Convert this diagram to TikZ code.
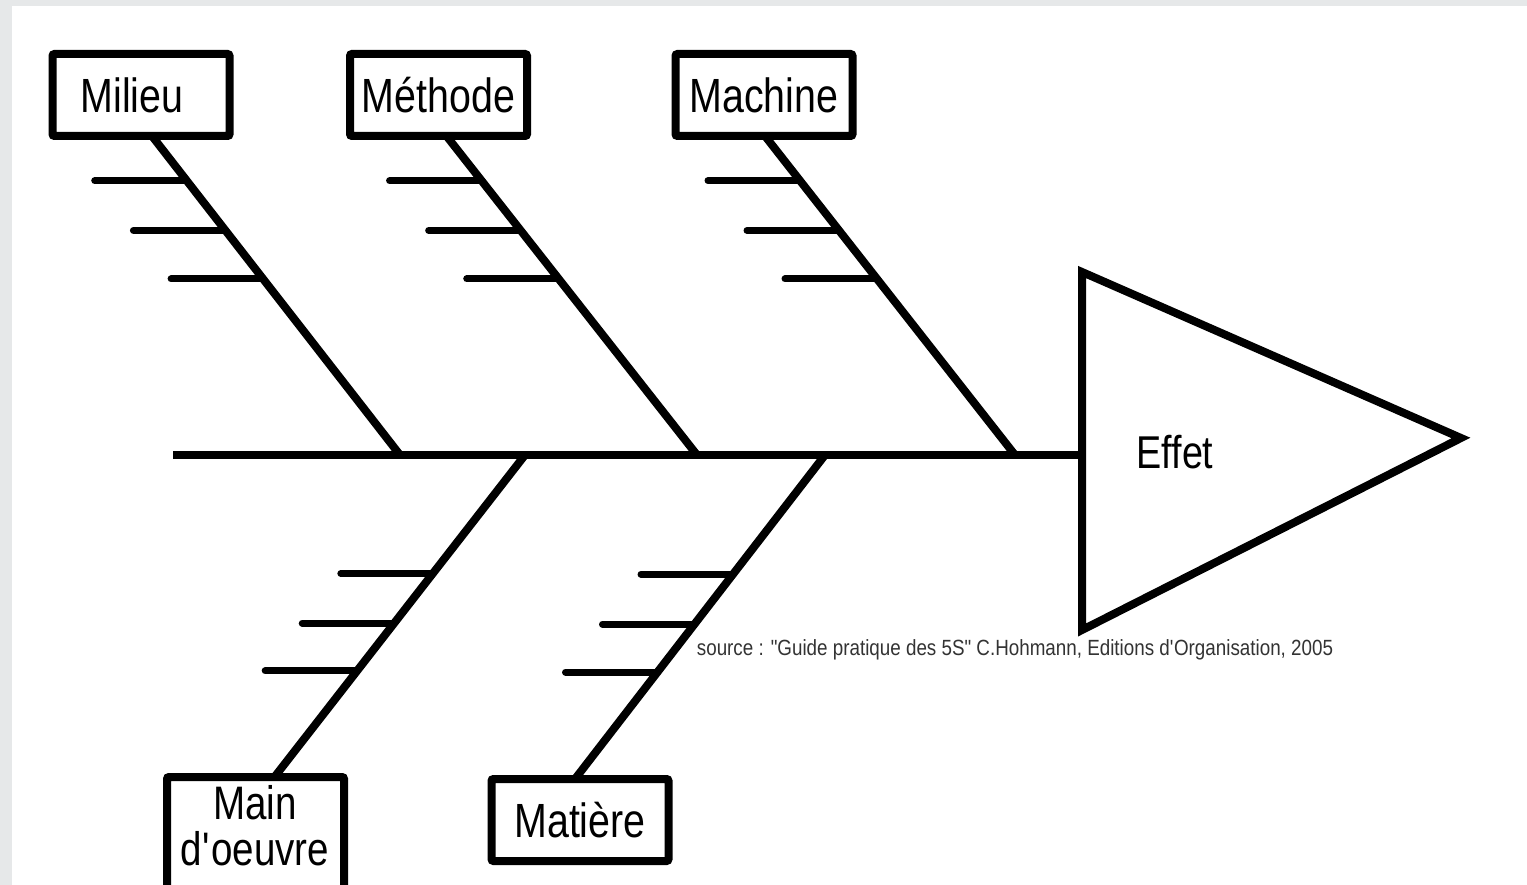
\documentclass[tikz,border=0pt]{standalone}
\usepackage{fontspec}
\setmainfont{Liberation Sans}[FakeStretch=0.82]
\newfontfamily\srcfont{Liberation Sans}[FakeStretch=0.855]
\usetikzlibrary{calc}
\definecolor{bggray}{HTML}{E6E8E9}
\tikzset{
  catbox/.style={draw=black, line width=8pt, rounded corners=2pt, fill=white,
    minimum width=177pt, minimum height=82pt, inner sep=0pt,
    font=\fontsize{48}{50}\selectfont, align=center},
  bone/.style={line width=8pt, line cap=butt},
  rib/.style={line width=7pt, line cap=round},
}
\begin{document}
\begin{tikzpicture}[x=1pt,y=-1pt]
\useasboundingbox (0,0) rectangle (1527,885);
\fill[bggray] (0,0) rectangle (1527,885);
\fill[white] (12,6) rectangle (1527,885);

% category boxes
\node[catbox] (milieu)  at (141,95)  {\hspace*{-18pt}Milieu};
\node[catbox] (methode) at (438.5,95) {Méthode};
\node[catbox] (machine) at (764,95)  {Machine};
\node[catbox, minimum height=118pt] (main) at (255.5,836) {};
\node[font=\fontsize{47}{46}\selectfont, align=center] (maintxt) at (255,826) {Main\\d\textquotesingle oeuvre};
\node[catbox] (matiere) at (580,820) {Matière};

% spine junctions
\coordinate (j1) at (400,455);
\coordinate (j2) at (697,455);
\coordinate (j3) at (1015,455);
\coordinate (j4) at (525,455);
\coordinate (j5) at (825,455);
\coordinate (spinestart) at (173,455);

% effect triangle
\coordinate (ta) at (1082,272);
\coordinate (tb) at (1461,438);
\coordinate (tc) at (1082,630);
\coordinate (spineend) at (1082,455);
\draw[line width=8pt, line join=miter] (ta) -- (tb) -- (tc) -- cycle;
\node[font=\fontsize{46}{50}\selectfont] (effet) at (1175,452) {Effet};

% spine
\draw[bone] (spinestart) -- (spineend);

% upper bones
\coordinate (b1) at ([xshift=11pt,yshift=4pt]milieu.south);
\coordinate (b2) at ([xshift=8pt,yshift=4pt]methode.south);
\coordinate (b3) at ([xshift=1pt,yshift=4pt]machine.south);
\draw[bone] (b1) -- (j1);
\draw[bone] (b2) -- (j2);
\draw[bone] (b3) -- (j3);

\foreach \b/\j in {b1/j1, b2/j2, b3/j3}{
  \foreach \t in {0.140, 0.296, 0.448}{
    \draw[rib] ($(\b)!\t!(\j)$) -- ++(-92,0);
  }
}

% lower bones
\coordinate (b4) at ([xshift=19pt,yshift=-4pt]main.north);
\coordinate (b5) at ([xshift=-5pt,yshift=-4pt]matiere.north);
\draw[bone] (j4) -- (b4);
\draw[bone] (j5) -- (b5);
\foreach \b/\j in {b4/j4, b5/j5}{
  \foreach \t in {0.368, 0.522, 0.670}{
    \draw[rib] ($(\j)!\t!(\b)$) -- ++(-92,0);
  }
}

% source
\node[font=\srcfont\fontsize{22}{24}\selectfont, text=black!80] (src) at (1015,650)
  {source : "Guide pratique des 5S" C.Hohmann, Editions d\textquotesingle Organisation, 2005};
\end{tikzpicture}
\end{document}
